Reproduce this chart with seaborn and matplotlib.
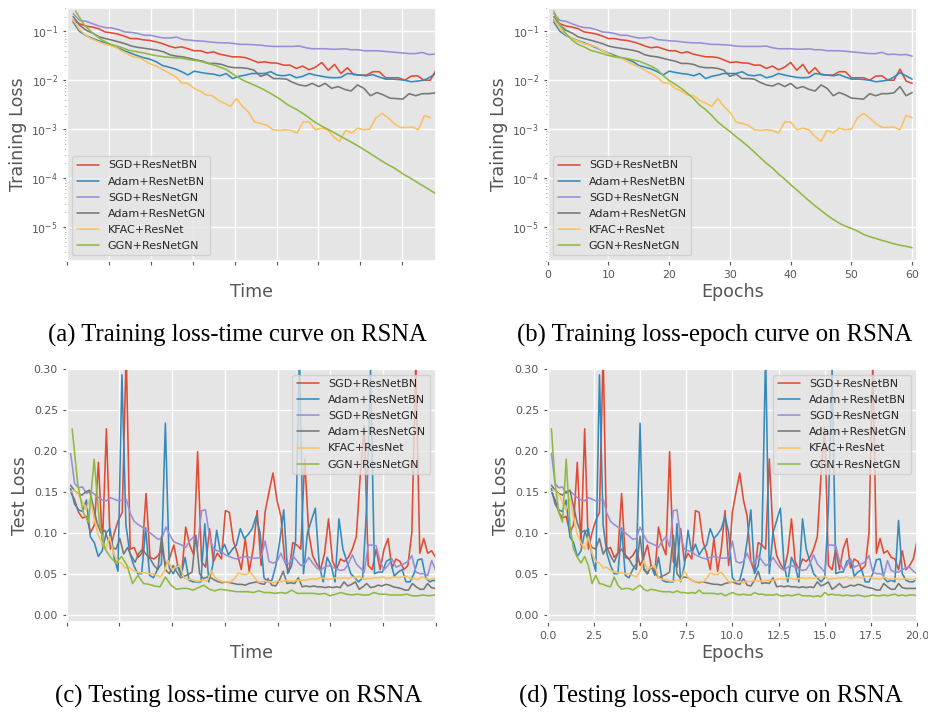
import pandas as pd
import seaborn as sns
import matplotlib.pyplot as plt

# ggplot-like look via seaborn theme
sns.set_theme(style="darkgrid", rc={
    "axes.facecolor": "#E5E5E5",
    "axes.edgecolor": "white",
    "grid.color": "white",
    "grid.linewidth": 1.0,
    "axes.labelcolor": "#555555",
    "xtick.color": "#555555",
    "ytick.color": "#555555",
    "xtick.bottom": True,
    "ytick.left": True,
    "xtick.direction": "out",
    "ytick.direction": "out",
    "xtick.major.size": 2.8,
    "ytick.major.size": 2.8,
    "ytick.minor.size": 1.5,
    "xtick.major.width": 0.8,
    "ytick.major.width": 0.8,
    "ytick.minor.width": 0.6,
    "xtick.labelsize": 7.8,
    "ytick.labelsize": 7.8,
    "legend.frameon": True,
    "legend.framealpha": 0.8,
    "legend.facecolor": "#E5E5E5",
    "legend.edgecolor": "0.8",
})
plt.rcParams["font.family"] = ["DejaVu Sans"]

methods = ["SGD+ResNetBN", "Adam+ResNetBN", "SGD+ResNetGN",
           "Adam+ResNetGN", "KFAC+ResNet", "GGN+ResNetGN"]
colors = ["#E24A33", "#348ABD", "#988ED5", "#777777", "#FBC15E", "#8EBA42"]

# ---- training loss, one value per epoch ----
train_epochs = list(range(1, 61))
train_sgd_bn = [0.17, 0.143, 0.128, 0.122, 0.113, 0.097, 0.093, 0.088, 0.080, 0.071,
                0.071, 0.067, 0.065, 0.061, 0.056, 0.050, 0.046, 0.048, 0.044, 0.040,
                0.040, 0.036, 0.038, 0.034, 0.032, 0.030, 0.030, 0.029, 0.026, 0.023,
                0.0237, 0.0226, 0.0223, 0.0203, 0.0203, 0.0174, 0.0194, 0.0163, 0.0185, 0.023,
                0.016, 0.021, 0.0137, 0.018, 0.013, 0.0127, 0.0127, 0.0149, 0.0149, 0.0112,
                0.0112, 0.0112, 0.010, 0.0121, 0.0123, 0.010, 0.010, 0.0168, 0.0096, 0.0086]
train_adam_bn = [0.155, 0.100, 0.082, 0.072, 0.064, 0.058, 0.052, 0.046, 0.040, 0.036,
                 0.032, 0.029, 0.027, 0.024, 0.020, 0.0185, 0.017, 0.015, 0.0128, 0.0153,
                 0.0144, 0.0137, 0.0133, 0.0123, 0.0137, 0.0108, 0.012, 0.0127, 0.0137, 0.0137,
                 0.0137, 0.0149, 0.0127, 0.0123, 0.013, 0.0112, 0.012, 0.0137, 0.0127, 0.012,
                 0.0114, 0.0112, 0.0114, 0.0137, 0.0133, 0.0127, 0.0123, 0.013, 0.0116, 0.0105,
                 0.0105, 0.0103, 0.010, 0.0093, 0.0096, 0.010, 0.0116, 0.0142, 0.0123, 0.0105]
train_sgd_gn = [0.23, 0.167, 0.16, 0.143, 0.128, 0.119, 0.117, 0.108, 0.097, 0.095,
                0.090, 0.083, 0.083, 0.077, 0.073, 0.073, 0.076, 0.068, 0.066, 0.064,
                0.063, 0.061, 0.059, 0.058, 0.058, 0.056, 0.054, 0.054, 0.053, 0.052,
                0.050, 0.049, 0.049, 0.049, 0.049, 0.050, 0.046, 0.044, 0.044, 0.044,
                0.043, 0.043, 0.044, 0.042, 0.042, 0.040, 0.040, 0.040, 0.039, 0.038,
                0.037, 0.036, 0.035, 0.035, 0.037, 0.0335, 0.034, 0.033, 0.0335, 0.031]
train_adam_gn = [0.20, 0.133, 0.105, 0.092, 0.077, 0.071, 0.066, 0.061, 0.056, 0.050,
                 0.047, 0.045, 0.043, 0.041, 0.038, 0.033, 0.031, 0.030, 0.028, 0.026,
                 0.0245, 0.022, 0.022, 0.021, 0.0188, 0.018, 0.018, 0.0174, 0.016, 0.012,
                 0.0133, 0.0108, 0.0108, 0.0105, 0.009, 0.008, 0.0076, 0.0086, 0.0074, 0.0086,
                 0.0068, 0.0074, 0.0065, 0.006, 0.008, 0.0068, 0.0048, 0.0056, 0.005, 0.0043,
                 0.0042, 0.0041, 0.0053, 0.0048, 0.0053, 0.0053, 0.0055, 0.0074, 0.0048, 0.0056]
train_kfac = [0.18, 0.113, 0.086, 0.071, 0.063, 0.056, 0.052, 0.048, 0.040, 0.035,
              0.030, 0.0286, 0.0245, 0.021, 0.0188, 0.016, 0.0137, 0.0117, 0.0088, 0.0086,
              0.0068, 0.006, 0.005, 0.0048, 0.0039, 0.0034, 0.0029, 0.0042, 0.0029, 0.0022,
              0.0014, 0.0013, 0.0012, 0.00097, 0.00094, 0.00097, 0.00094, 0.00083, 0.0014, 0.0014,
              0.00097, 0.00104, 0.00097, 0.0007, 0.00056, 0.00094, 0.00083, 0.00104, 0.00097, 0.001,
              0.0017, 0.0021, 0.0017, 0.0013, 0.00108, 0.00108, 0.0011, 0.00097, 0.0019, 0.0017]
train_ggn = [0.26, 0.133, 0.09, 0.066, 0.054, 0.048, 0.041, 0.038, 0.035, 0.032,
             0.030, 0.029, 0.028, 0.026, 0.0245, 0.022, 0.0194, 0.0166, 0.0125, 0.0098,
             0.0082, 0.0068, 0.0054, 0.0042, 0.0031, 0.0025, 0.0019, 0.0014, 0.0011, 0.00089,
             0.0007, 0.00056, 0.00044, 0.00034, 0.00026, 0.0002, 0.00016, 0.00012, 9.5e-5, 7.3e-5,
             5.7e-5, 4.4e-5, 3.45e-5, 2.7e-5, 2.16e-5, 1.73e-5, 1.42e-5, 1.19e-5, 1.03e-5, 9.3e-6,
             8.2e-6, 7.0e-6, 6.3e-6, 5.8e-6, 5.3e-6, 4.9e-6, 4.5e-6, 4.2e-6, 4.0e-6, 3.75e-6]

# ---- test loss, evaluated every 0.2 epoch ----
test_epochs = [round(0.2 * k, 1) for k in range(1, 101)]
test_sgd_bn = [0.150, 0.140, 0.125, 0.118, 0.120, 0.100, 0.110, 0.186, 0.085, 0.227,
               0.080, 0.100, 0.115, 0.125, 0.320, 0.080, 0.082, 0.070, 0.075, 0.148,
               0.070, 0.068, 0.072, 0.080, 0.060, 0.070, 0.085, 0.060, 0.050, 0.107,
               0.085, 0.073, 0.199, 0.065, 0.058, 0.105, 0.065, 0.075, 0.068, 0.127,
               0.125, 0.090, 0.075, 0.055, 0.093, 0.053, 0.080, 0.127, 0.060, 0.125,
               0.150, 0.173, 0.140, 0.120, 0.065, 0.052, 0.088, 0.085, 0.080, 0.190,
               0.100, 0.072, 0.062, 0.055, 0.075, 0.117, 0.065, 0.055, 0.068, 0.065,
               0.070, 0.080, 0.095, 0.170, 0.230, 0.060, 0.055, 0.080, 0.055, 0.080,
               0.093, 0.057, 0.068, 0.065, 0.055, 0.060, 0.100, 0.310, 0.075, 0.093,
               0.075, 0.078, 0.070, 0.068, 0.055, 0.078, 0.055, 0.060, 0.068, 0.090]
test_adam_bn = [0.154, 0.135, 0.128, 0.126, 0.140, 0.095, 0.088, 0.071, 0.078, 0.100,
                0.105, 0.070, 0.053, 0.293, 0.110, 0.075, 0.060, 0.050, 0.050, 0.106,
                0.048, 0.045, 0.055, 0.062, 0.234, 0.057, 0.050, 0.060, 0.048, 0.070,
                0.042, 0.040, 0.040, 0.040, 0.111, 0.040, 0.060, 0.103, 0.075, 0.086,
                0.073, 0.080, 0.085, 0.105, 0.093, 0.098, 0.105, 0.120, 0.100, 0.045,
                0.040, 0.042, 0.060, 0.090, 0.128, 0.050, 0.060, 0.090, 0.320, 0.050,
                0.100, 0.115, 0.130, 0.060, 0.040, 0.070, 0.060, 0.040, 0.117, 0.080,
                0.065, 0.050, 0.045, 0.040, 0.045, 0.130, 0.300, 0.050, 0.052, 0.052,
                0.065, 0.068, 0.047, 0.052, 0.055, 0.040, 0.040, 0.050, 0.067, 0.068,
                0.045, 0.040, 0.042, 0.040, 0.115, 0.050, 0.042, 0.040, 0.040, 0.045]
test_sgd_gn = [0.197, 0.160, 0.155, 0.156, 0.148, 0.151, 0.147, 0.143, 0.140, 0.139,
               0.143, 0.141, 0.139, 0.140, 0.141, 0.124, 0.114, 0.110, 0.107, 0.103,
               0.100, 0.096, 0.092, 0.093, 0.107, 0.097, 0.089, 0.087, 0.085, 0.082,
               0.090, 0.095, 0.083, 0.127, 0.128, 0.095, 0.080, 0.078, 0.077, 0.073,
               0.071, 0.069, 0.068, 0.070, 0.071, 0.070, 0.069, 0.069, 0.070, 0.090,
               0.065, 0.063, 0.065, 0.075, 0.064, 0.062, 0.072, 0.066, 0.060, 0.062,
               0.070, 0.063, 0.057, 0.054, 0.058, 0.060, 0.058, 0.056, 0.054, 0.055,
               0.062, 0.073, 0.062, 0.057, 0.052, 0.085, 0.085, 0.084, 0.065, 0.055,
               0.060, 0.068, 0.058, 0.060, 0.062, 0.065, 0.072, 0.052, 0.050, 0.050,
               0.048, 0.066, 0.054, 0.052, 0.052, 0.055, 0.057, 0.058, 0.053, 0.050]
test_adam_gn = [0.158, 0.152, 0.148, 0.146, 0.150, 0.152, 0.132, 0.112, 0.100, 0.103,
                0.090, 0.082, 0.080, 0.093, 0.074, 0.082, 0.072, 0.064, 0.075, 0.080,
                0.073, 0.068, 0.060, 0.055, 0.096, 0.055, 0.050, 0.060, 0.052, 0.045,
                0.047, 0.049, 0.052, 0.097, 0.050, 0.044, 0.046, 0.045, 0.042, 0.040,
                0.039, 0.040, 0.039, 0.038, 0.037, 0.037, 0.036, 0.038, 0.039, 0.040,
                0.038, 0.037, 0.044, 0.036, 0.035, 0.042, 0.053, 0.038, 0.039, 0.038,
                0.045, 0.034, 0.035, 0.034, 0.035, 0.034, 0.034, 0.033, 0.034, 0.033,
                0.034, 0.033, 0.040, 0.035, 0.037, 0.040, 0.031, 0.034, 0.038, 0.033,
                0.034, 0.036, 0.035, 0.037, 0.036, 0.034, 0.033, 0.032, 0.030, 0.030,
                0.038, 0.034, 0.031, 0.031, 0.038, 0.033, 0.032, 0.032, 0.032, 0.032]
test_kfac = [0.150, 0.152, 0.147, 0.138, 0.128, 0.142, 0.118, 0.098, 0.088, 0.080,
             0.095, 0.075, 0.065, 0.063, 0.057, 0.058, 0.054, 0.052, 0.051, 0.051,
             0.050, 0.050, 0.048, 0.046, 0.053, 0.066, 0.055, 0.058, 0.060, 0.045,
             0.043, 0.043, 0.041, 0.041, 0.042, 0.041, 0.054, 0.045, 0.042, 0.040,
             0.040, 0.040, 0.044, 0.051, 0.049, 0.049, 0.052, 0.046, 0.040, 0.040,
             0.041, 0.040, 0.039, 0.041, 0.040, 0.042, 0.041, 0.041, 0.042, 0.042,
             0.042, 0.043, 0.044, 0.043, 0.045, 0.044, 0.043, 0.044, 0.045, 0.044,
             0.045, 0.044, 0.046, 0.045, 0.047, 0.043, 0.044, 0.044, 0.045, 0.045,
             0.046, 0.044, 0.045, 0.046, 0.045, 0.046, 0.047, 0.044, 0.044, 0.043,
             0.046, 0.044, 0.043, 0.044, 0.043, 0.043, 0.044, 0.043, 0.043, 0.043]
test_ggn = [0.227, 0.160, 0.125, 0.113, 0.190, 0.110, 0.080, 0.070, 0.063, 0.071,
            0.060, 0.038, 0.048, 0.038, 0.037, 0.035, 0.034, 0.046, 0.036, 0.031,
            0.032, 0.032, 0.030, 0.033, 0.036, 0.031, 0.029, 0.031, 0.030, 0.029,
            0.028, 0.028, 0.028, 0.027, 0.029, 0.027, 0.027, 0.026, 0.027, 0.026,
            0.030, 0.026, 0.026, 0.026, 0.026, 0.025, 0.026, 0.023, 0.025, 0.027,
            0.025, 0.024, 0.025, 0.024, 0.024, 0.027, 0.025, 0.025, 0.024, 0.024,
            0.024, 0.025, 0.023, 0.023, 0.024, 0.023, 0.024, 0.025, 0.023, 0.023,
            0.023, 0.022, 0.023, 0.022, 0.027, 0.024, 0.025, 0.024, 0.024, 0.023,
            0.024, 0.023, 0.023, 0.024, 0.023, 0.022, 0.023, 0.024, 0.023, 0.023,
            0.024, 0.023, 0.024, 0.025, 0.023, 0.024, 0.023, 0.024, 0.024, 0.023]

# wall-clock cost of one epoch per method (arbitrary time units of each time axis)
train_time_per_epoch = [0.152, 0.152, 0.154, 0.154, 0.1445, 0.211]
test_time_per_epoch = [0.376, 0.374, 0.376, 0.36, 0.37, 0.52]

train_losses = [train_sgd_bn, train_adam_bn, train_sgd_gn, train_adam_gn, train_kfac, train_ggn]
test_losses = [test_sgd_bn, test_adam_bn, test_sgd_gn, test_adam_gn, test_kfac, test_ggn]


def long_frame(epochs, losses, rates=None):
    parts = []
    for i, m in enumerate(methods):
        xs = epochs if rates is None else [e * rates[i] for e in epochs]
        parts.append(pd.DataFrame({"x": xs, "loss": losses[i], "method": m}))
    return pd.concat(parts, ignore_index=True)


df_train_time = long_frame(train_epochs, train_losses, train_time_per_epoch)
df_train_epoch = long_frame(train_epochs, train_losses)
df_test_time = long_frame(test_epochs, test_losses, test_time_per_epoch)
df_test_epoch = long_frame(test_epochs, test_losses)

fig = plt.figure(figsize=(9.29, 7.12), dpi=100)
ax_a = fig.add_axes([0.0718, 0.6334, 0.3975, 0.3554])
ax_b = fig.add_axes([0.5896, 0.6334, 0.3975, 0.3554])
ax_c = fig.add_axes([0.0718, 0.1264, 0.3975, 0.3553])
ax_d = fig.add_axes([0.5896, 0.1264, 0.3975, 0.3553])

panels = [
    (ax_a, df_train_time, "Time", "Training Loss", "lower left"),
    (ax_b, df_train_epoch, "Epochs", "Training Loss", "lower left"),
    (ax_c, df_test_time, "Time", "Test Loss", "upper right"),
    (ax_d, df_test_epoch, "Epochs", "Test Loss", "upper right"),
]

for ax, df, xlab, ylab, loc in panels:
    sns.lineplot(data=df, x="x", y="loss", hue="method", hue_order=methods,
                 palette=colors, estimator=None, sort=False, linewidth=1.15, ax=ax)
    sns.move_legend(ax, loc, title=None, fontsize=8.0, labelspacing=0.55,
                    fancybox=True)
    ax.set_xlabel(xlab, fontsize=12.6)
    ax.set_ylabel(ylab, fontsize=12.6)
    ax.xaxis.label.set_va("center")
    ax.yaxis.label.set_va("center")
    ax.xaxis.set_label_coords(0.5, -0.1225)

for ax in (ax_a, ax_b):
    ax.set_yscale("log")
    ax.set_ylim(2.0e-6, 0.30)
    ax.yaxis.set_label_coords(-0.132, 0.5)

for ax in (ax_c, ax_d):
    ax.set_ylim(-0.009, 0.30)
    ax.set_yticks([0.0, 0.05, 0.10, 0.15, 0.20, 0.25, 0.30])
    ax.yaxis.set_label_coords(-0.126, 0.5)

ax_a.set_xlim(0, 8.8)
ax_a.set_xticks(range(0, 9))
ax_a.tick_params(axis="x", labelbottom=False)
ax_b.set_xlim(0, 60.8)
ax_c.set_xlim(0, 7)
ax_c.set_xticks(range(0, 8))
ax_c.tick_params(axis="x", labelbottom=False)
ax_d.set_xlim(0, 20)

captions = [
    (0.256, 0.5295, "(a) Training loss-time curve on RSNA"),
    (0.769, 0.5295, "(b) Training loss-epoch curve on RSNA"),
    (0.257, 0.0225, "(c) Testing loss-time curve on RSNA"),
    (0.765, 0.0225, "(d) Testing loss-epoch curve on RSNA"),
]
for x, y, txt in captions:
    fig.text(x, y, txt, ha="center", va="center", family="Liberation Serif",
             fontsize=17.8, color="black")

fig.savefig("out.png", dpi=100)
